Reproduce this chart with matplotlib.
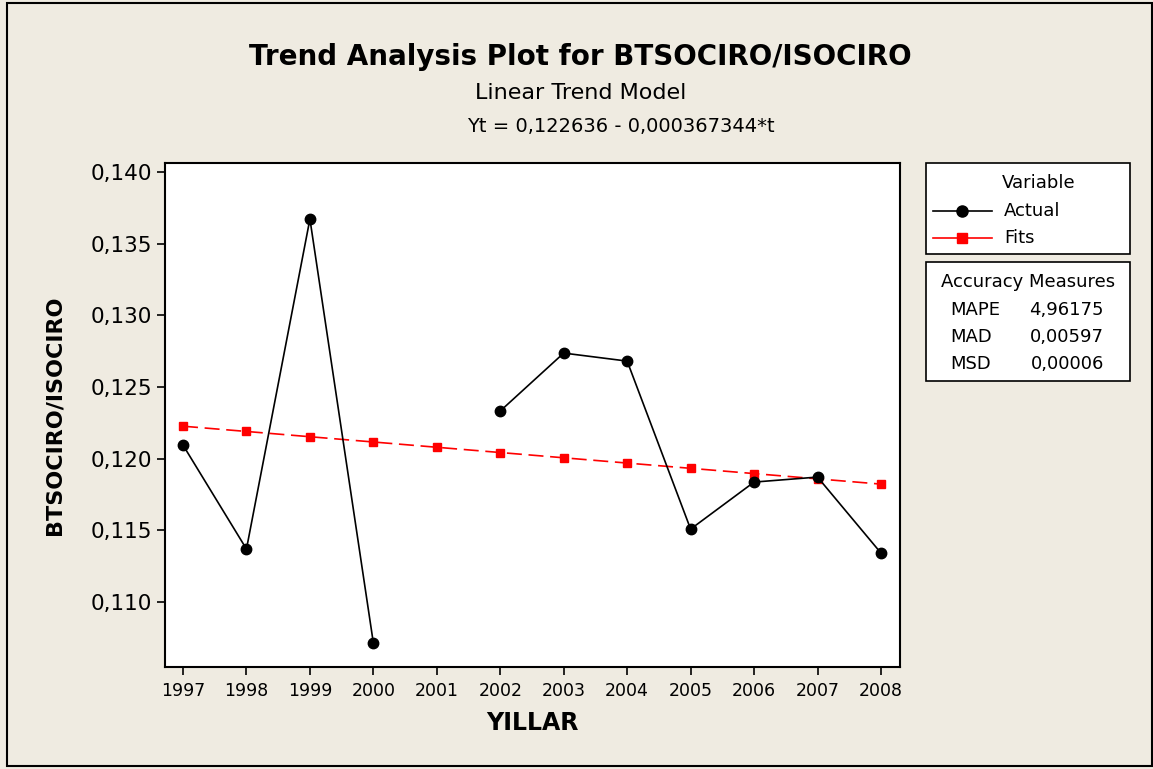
import numpy as np
import matplotlib.pyplot as plt
from matplotlib.patches import Rectangle
from matplotlib.lines import Line2D

plt.rcParams['font.family'] = ['DejaVu Sans']

years = [1997, 1998, 1999, 2000, 2001, 2002, 2003, 2004, 2005, 2006, 2007, 2008]
actual = [0.12095, 0.11370, 0.13672, 0.10714, np.nan, 0.12333,
          0.12737, 0.12681, 0.11509, 0.11837, 0.11872, 0.11342]
fits = [0.122269, 0.121902, 0.121534, 0.121167, 0.120799, 0.120432,
        0.120065, 0.119697, 0.119330, 0.118963, 0.118595, 0.118228]
yticks = [0.110, 0.115, 0.120, 0.125, 0.130, 0.135, 0.140]
measures = [("MAPE", "4,96175"), ("MAD", "0,00597"), ("MSD", "0,00006")]

BG = "#EFEBE1"
W, H = 1153, 769

fig = plt.figure(figsize=(W / 100, H / 100), dpi=100)
fig.patch.set_facecolor(BG)

# outer frame
fig.add_artist(Rectangle((7 / W, 3 / H), (W - 8) / W, (H - 6) / H,
                         transform=fig.transFigure, fill=False,
                         edgecolor="black", lw=1.5))

ax = fig.add_axes([165 / W, 1 - 667 / H, (900 - 165) / W, (667 - 163) / H])
ax.set_facecolor("white")
ax.plot(years, fits, color="red", lw=1.2, ls=(0, (9, 4)),
        marker="s", ms=6, mfc="red", mec="red", zorder=3)
ax.plot(years, actual, color="black", lw=1.2,
        marker="o", ms=7.5, mfc="black", mec="black", zorder=4)

ax.set_xlim(1996.716, 2008.30)
ax.set_ylim(0.10547, 0.14063)
ax.set_xticks(years)
ax.set_xticklabels([str(y) for y in years], fontsize=12.5)
ax.set_yticks(yticks)
ax.set_yticklabels([f"{v:.3f}".replace(".", ",") for v in yticks], fontsize=15.5)
ax.tick_params(direction="out", length=6, width=1.2, colors="black", pad=3)
ax.tick_params(axis="x", pad=5)
for sp in ax.spines.values():
    sp.set_linewidth(1.5)

ax.set_xlabel("YILLAR", fontsize=17, fontweight="bold")
ax.set_ylabel("BTSOCIRO/ISOCIRO", fontsize=16, fontweight="bold")
ax.xaxis.set_label_coords(0.5, (667 - 723) / 504, transform=ax.transAxes)
ax.yaxis.set_label_coords((55 - 165) / 735, 0.5, transform=ax.transAxes)
ax.xaxis.label.set_va("center")
ax.yaxis.label.set_va("center")

fig.text(580 / W, 1 - 57 / H, "Trend Analysis Plot for BTSOCIRO/ISOCIRO",
         ha="center", va="center", fontsize=20, fontweight="bold")
fig.text(581 / W, 1 - 93 / H, "Linear Trend Model",
         ha="center", va="center", fontsize=16)
fig.text(621 / W, 1 - 126 / H, "Yt = 0,122636 - 0,000367344*t",
         ha="center", va="center", fontsize=14)

# legend box
lx0, lx1 = 926, 1130
fig.add_artist(Rectangle((lx0 / W, 1 - 254 / H), (lx1 - lx0) / W, (254 - 163) / H,
                         transform=fig.transFigure, facecolor="white",
                         edgecolor="black", lw=1.2))
fig.text(1039 / W, 1 - 183 / H, "Variable", ha="center", va="center", fontsize=13)
entries = [("Actual", "black", "o", 211), ("Fits", "red", "s", 238)]
for name, col, mk, yy in entries:
    fig.add_artist(Line2D([933 / W, 992 / W], [1 - yy / H, 1 - yy / H],
                          transform=fig.transFigure, color=col, lw=1.2))
    fig.add_artist(Line2D([962 / W], [1 - yy / H], transform=fig.transFigure,
                          marker=mk, color=col, ms=8 if mk == "o" else 7))
    fig.text(1004 / W, 1 - yy / H, name, ha="left", va="center", fontsize=13)

# accuracy measures box
fig.add_artist(Rectangle((lx0 / W, 1 - 381 / H), (lx1 - lx0) / W, (381 - 262) / H,
                         transform=fig.transFigure, facecolor="white",
                         edgecolor="black", lw=1.2))
fig.text(1028 / W, 1 - 282 / H, "Accuracy Measures", ha="center", va="center", fontsize=13)
for i, (k, v) in enumerate(measures):
    yy = 310 + i * 27
    fig.text(950 / W, 1 - yy / H, k, ha="left", va="center", fontsize=13)
    fig.text(1104 / W, 1 - yy / H, v, ha="right", va="center", fontsize=13)

fig.savefig("out.png", dpi=100, facecolor=BG)
